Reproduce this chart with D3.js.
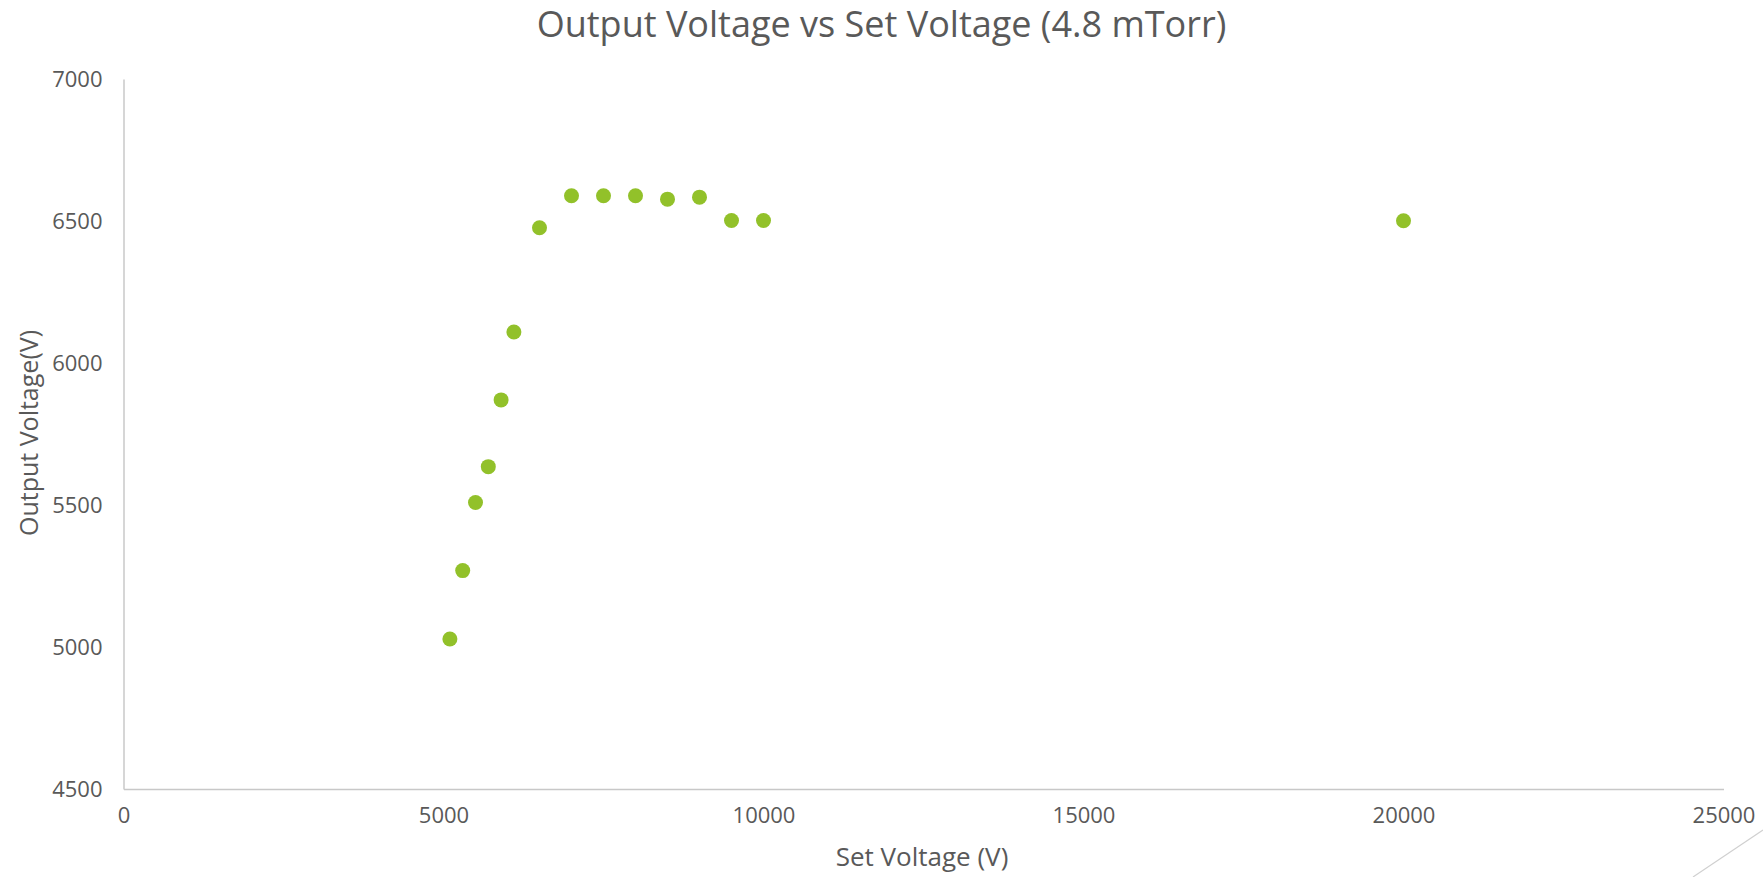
<!DOCTYPE html>
<html>
<head>
<meta charset="utf-8">
<script src="https://cdn.jsdelivr.net/npm/d3@7"></script>
<style>
  html, body { margin: 0; padding: 0; background: #ffffff; }
  svg { display: block; }
  text { font-family: "Open Sans", "DejaVu Sans", sans-serif; fill: #595959; }
</style>
</head>
<body>
<svg id="chart" width="1763" height="877"></svg>
<script>
const chartTitle = "Output Voltage vs Set Voltage (4.8 mTorr)";
const xTitle = "Set Voltage (V)";
const yTitle = "Output Voltage(V)";
const setVoltage = [5100, 5300, 5500, 5700, 5900, 6100, 6500, 7000, 7500, 8000, 8500, 9000, 9500, 10000, 20000];
const outputVoltage = [5028, 5269, 5509, 5635, 5870, 6109, 6476, 6589, 6589, 6589, 6577, 6584, 6502, 6502, 6501];
const xTicks = [0, 5000, 10000, 15000, 20000, 25000];
const yTicks = [4500, 5000, 5500, 6000, 6500, 7000];

const svg = d3.select("#chart");
const W = 1763, H = 877;
const m = { left: 123.5, right: 1723.5, top: 79, bottom: 789 };

const x = d3.scaleLinear().domain([0, 25000]).range([m.left, m.right]);
const y = d3.scaleLinear().domain([4500, 7000]).range([m.bottom, m.top]);

// axes
const xAxis = d3.axisBottom(x).tickValues(xTicks).tickSize(0).tickPadding(18).tickFormat(d3.format("d"));
const yAxis = d3.axisLeft(y).tickValues(yTicks).tickSize(0).tickPadding(21).tickFormat(d3.format("d"));

const gx = svg.append("g").attr("transform", `translate(0,${m.bottom})`).call(xAxis);
const gy = svg.append("g").attr("transform", `translate(${m.left},0)`).call(yAxis);
[gx, gy].forEach(g => {
  g.select(".domain").attr("stroke", "#c8c8c8").attr("stroke-width", 1.5);
  g.selectAll("text").style("font-size", "22px").style("fill", "#595959")
   .style("font-family", "'Open Sans', sans-serif");
});

// points
svg.append("g").selectAll("circle")
  .data(setVoltage.map((v, i) => [v, outputVoltage[i]]))
  .join("circle")
  .attr("cx", d => x(d[0]))
  .attr("cy", d => y(d[1]))
  .attr("r", 7.5)
  .attr("fill", "#92c12a");

// titles
svg.append("text").attr("x", W / 2).attr("y", 37).attr("text-anchor", "middle")
  .style("font-size", "36px").text(chartTitle);
svg.append("text").attr("x", 922).attr("y", 866).attr("text-anchor", "middle")
  .style("font-size", "26px").text(xTitle);
svg.append("text").attr("transform", `translate(38,433) rotate(-90)`).attr("text-anchor", "middle")
  .style("font-size", "25px").text(yTitle);

// decorative corner line
svg.append("line").attr("x1", 1693).attr("y1", 877).attr("x2", 1763).attr("y2", 830)
  .attr("stroke", "#d0d0d0").attr("stroke-width", 1.2);
</script>
</body>
</html>
